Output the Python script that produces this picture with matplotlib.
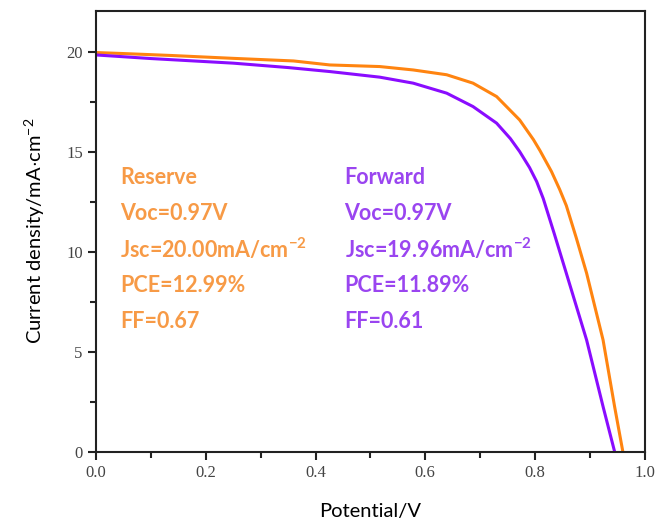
"""J-V curves, reverse and forward scan."""

import matplotlib
matplotlib.use("Agg")
import matplotlib.pyplot as plt
from matplotlib.ticker import MultipleLocator

plt.rcParams["mathtext.fontset"] = "custom"
plt.rcParams["mathtext.rm"] = "Lato"
plt.rcParams["mathtext.bf"] = "Lato:bold"

# reverse scan (orange)
v_rev = [0.0, 0.05, 0.14, 0.25, 0.36, 0.426, 0.517, 0.578, 0.639, 0.687, 0.73,
         0.772, 0.797, 0.809, 0.83, 0.845, 0.857, 0.875, 0.894, 0.924, 0.945, 0.96]
j_rev = [19.95, 19.9, 19.8, 19.66, 19.53, 19.33, 19.25, 19.08, 18.84, 18.42, 17.75,
         16.58, 15.6, 15.05, 14.0, 13.1, 12.3, 10.7, 8.92, 5.58, 2.25, 0.0]

# forward scan (purple)
v_fwd = [0.0, 0.1, 0.25, 0.35, 0.426, 0.517, 0.578, 0.639, 0.687, 0.73, 0.755,
         0.772, 0.79, 0.803, 0.815, 0.835, 0.857, 0.894, 0.924, 0.945]
j_fwd = [19.83, 19.65, 19.42, 19.2, 19.0, 18.72, 18.42, 17.92, 17.25, 16.42, 15.65,
         15.0, 14.2, 13.5, 12.65, 10.9, 8.92, 5.58, 2.25, 0.0]

rev_text = ["Reserve", "Voc=0.97V", r"Jsc=20.00mA/cm$^{\mathbf{-2}}$", "PCE=12.99%", "FF=0.67"]
fwd_text = ["Forward", "Voc=0.97V", r"Jsc=19.96mA/cm$^{\mathbf{-2}}$", "PCE=11.89%", "FF=0.61"]
text_y = [13.7, 11.9, 10.1, 8.3, 6.5]

ORANGE = "#ff8410"
PURPLE = "#8a0cff"
ORANGE_TXT = "#f79a46"
PURPLE_TXT = "#9a45f0"

fig = plt.figure(figsize=(6.62, 5.27), dpi=100)
ax = fig.add_axes([0.145, 0.143, 0.829, 0.837])

ax.plot(v_rev, j_rev, color=ORANGE, lw=2.2)
ax.plot(v_fwd, j_fwd, color=PURPLE, lw=2.2)

for s, y in zip(rev_text, text_y):
    ax.text(0.044, y, s, color=ORANGE_TXT, fontsize=15.5, fontweight="bold",
            family="Lato", va="center")
for s, y in zip(fwd_text, text_y):
    ax.text(0.453, y, s, color=PURPLE_TXT, fontsize=15.5, fontweight="bold",
            family="Lato", va="center")

ax.set_xlim(0, 1.0)
ax.set_ylim(0, 22.05)
ax.xaxis.set_major_locator(MultipleLocator(0.2))
ax.xaxis.set_minor_locator(MultipleLocator(0.1))
ax.yaxis.set_major_locator(MultipleLocator(5))
ax.yaxis.set_minor_locator(MultipleLocator(2.5))
ax.xaxis.set_major_formatter(plt.FuncFormatter(lambda v, p: f"{v:.1f}"))
ax.tick_params(which="both", direction="out", top=False, right=False,
               width=1.5, labelsize=12, colors="#222222")
ax.tick_params(which="major", length=6)
ax.tick_params(which="minor", length=4)
for lab in ax.get_xticklabels() + ax.get_yticklabels():
    lab.set_family("Liberation Serif")
    lab.set_color("#444444")
for sp in ax.spines.values():
    sp.set_linewidth(1.5)
    sp.set_color("#222222")

ax.set_xlabel("Potential/V", family="Lato", fontsize=14.5, labelpad=16)
ax.set_ylabel(r"Current density/mA$\cdot$cm$^{-2}$", family="Lato", fontsize=14.5, labelpad=14)

fig.savefig("out.png", dpi=100)
